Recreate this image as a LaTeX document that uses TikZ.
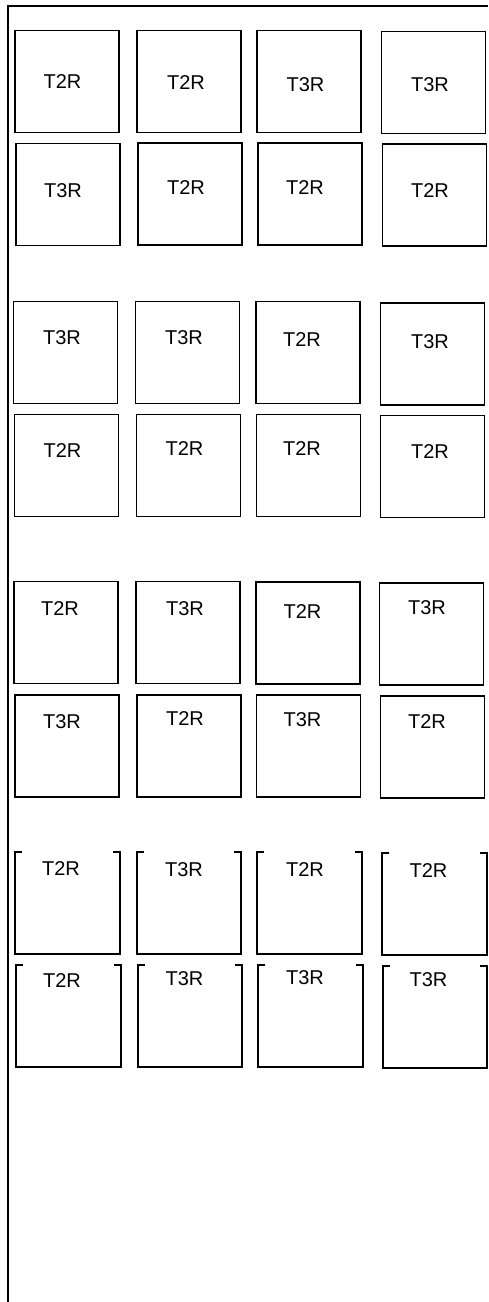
\documentclass[tikz,border=0pt]{standalone}
\usepackage{fontspec}
\setmainfont{Liberation Sans}

\begin{document}
\begin{tikzpicture}[
  x=1pt, y=-1pt,
  tile/.style={draw, line width=1.8pt, minimum width=104pt, minimum height=102pt, inner sep=0pt},
  opentile/.style={minimum width=104pt, minimum height=102pt, inner sep=0pt},
  lbl/.style={font=\fontsize{20}{24}\selectfont, inner sep=0pt},
  edge/.style={line width=1.8pt}
]
\useasboundingbox (0,0) rectangle (488,1302);

% frame
\coordinate (frame bottom) at (8,1302);
\coordinate (frame corner) at (8,6);
\coordinate (frame right) at (488,6);
\draw[edge] (frame bottom) -- (frame corner) -- (frame right);

% first group
\node[tile] (g1a) at (67,81.5) {};
\node[tile] (g1b) at (189,81.5) {};
\node[tile] (g1c) at (309,81.5) {};
\node[tile] (g1d) at (433.5,82.5) {};
\node[tile] (g1e) at (68,194.5) {};
\node[tile] (g1f) at (190,194) {};
\node[tile] (g1g) at (310,194) {};
\node[tile] (g1h) at (434.5,195) {};
\node[lbl] (t1a) at (62.5,82) {T2R};
\node[lbl] (t1b) at (186,83) {T2R};
\node[lbl] (t1c) at (305.5,85) {T3R};
\node[lbl] (t1d) at (430,85) {T3R};
\node[lbl] (t1e) at (63,190.5) {T3R};
\node[lbl] (t1f) at (186,188) {T2R};
\node[lbl] (t1g) at (305,188) {T2R};
\node[lbl] (t1h) at (430,191) {T2R};

% second group
\node[tile] (g2a) at (65.5,352.5) {};
\node[tile] (g2b) at (187.5,352.5) {};
\node[tile] (g2c) at (308,352.5) {};
\node[tile] (g2d) at (432.5,354) {};
\node[tile] (g2e) at (66.5,465.5) {};
\node[tile] (g2f) at (188.5,465.5) {};
\node[tile] (g2g) at (308.5,465.5) {};
\node[tile] (g2h) at (432.5,466.5) {};
\node[lbl] (t2a) at (62,338) {T3R};
\node[lbl] (t2b) at (184,338) {T3R};
\node[lbl] (t2c) at (302,340) {T2R};
\node[lbl] (t2d) at (430,342) {T3R};
\node[lbl] (t2e) at (62.5,451) {T2R};
\node[lbl] (t2f) at (184.5,449) {T2R};
\node[lbl] (t2g) at (302,449) {T2R};
\node[lbl] (t2h) at (430,452) {T2R};

% third group
\node[tile] (g3a) at (66,632.5) {};
\node[tile] (g3b) at (188,632.5) {};
\node[tile] (g3c) at (308,633) {};
\node[tile] (g3d) at (431.5,634) {};
\node[tile] (g3e) at (67,746) {};
\node[tile] (g3f) at (189,746) {};
\node[tile] (g3g) at (308.5,746) {};
\node[tile] (g3h) at (432.5,747) {};
\node[lbl] (t3a) at (60,609) {T2R};
\node[lbl] (t3b) at (185,609) {T3R};
\node[lbl] (t3c) at (302.5,612) {T2R};
\node[lbl] (t3d) at (427,608) {T3R};
\node[lbl] (t3e) at (62,722) {T3R};
\node[lbl] (t3f) at (185,719) {T2R};
\node[lbl] (t3g) at (302.5,720) {T3R};
\node[lbl] (t3h) at (427,722) {T2R};

% fourth group, open at the top
\node[opentile] (g4a) at (67.5,903) {};
\node[opentile] (g4b) at (189,903) {};
\node[opentile] (g4c) at (309.5,903) {};
\node[opentile] (g4d) at (434.5,904) {};
\node[opentile] (g4e) at (68.5,1016) {};
\node[opentile] (g4f) at (190,1016) {};
\node[opentile] (g4g) at (310.5,1016) {};
\node[opentile] (g4h) at (435,1017) {};
\foreach \t in {g4a,g4b,g4c,g4d,g4e,g4f,g4g,g4h}
  \draw[edge] ([xshift=7pt]\t.north west) -- (\t.north west) -- (\t.south west)
    -- (\t.south east) -- (\t.north east) -- ([xshift=-7pt]\t.north east);
\node[lbl] (t4a) at (61,869) {T2R};
\node[lbl] (t4b) at (184,870) {T3R};
\node[lbl] (t4c) at (305,870) {T2R};
\node[lbl] (t4d) at (428.5,870.5) {T2R};
\node[lbl] (t4e) at (62,981) {T2R};
\node[lbl] (t4f) at (184.5,979) {T3R};
\node[lbl] (t4g) at (305,978) {T3R};
\node[lbl] (t4h) at (428.5,980) {T3R};
\end{tikzpicture}
\end{document}
